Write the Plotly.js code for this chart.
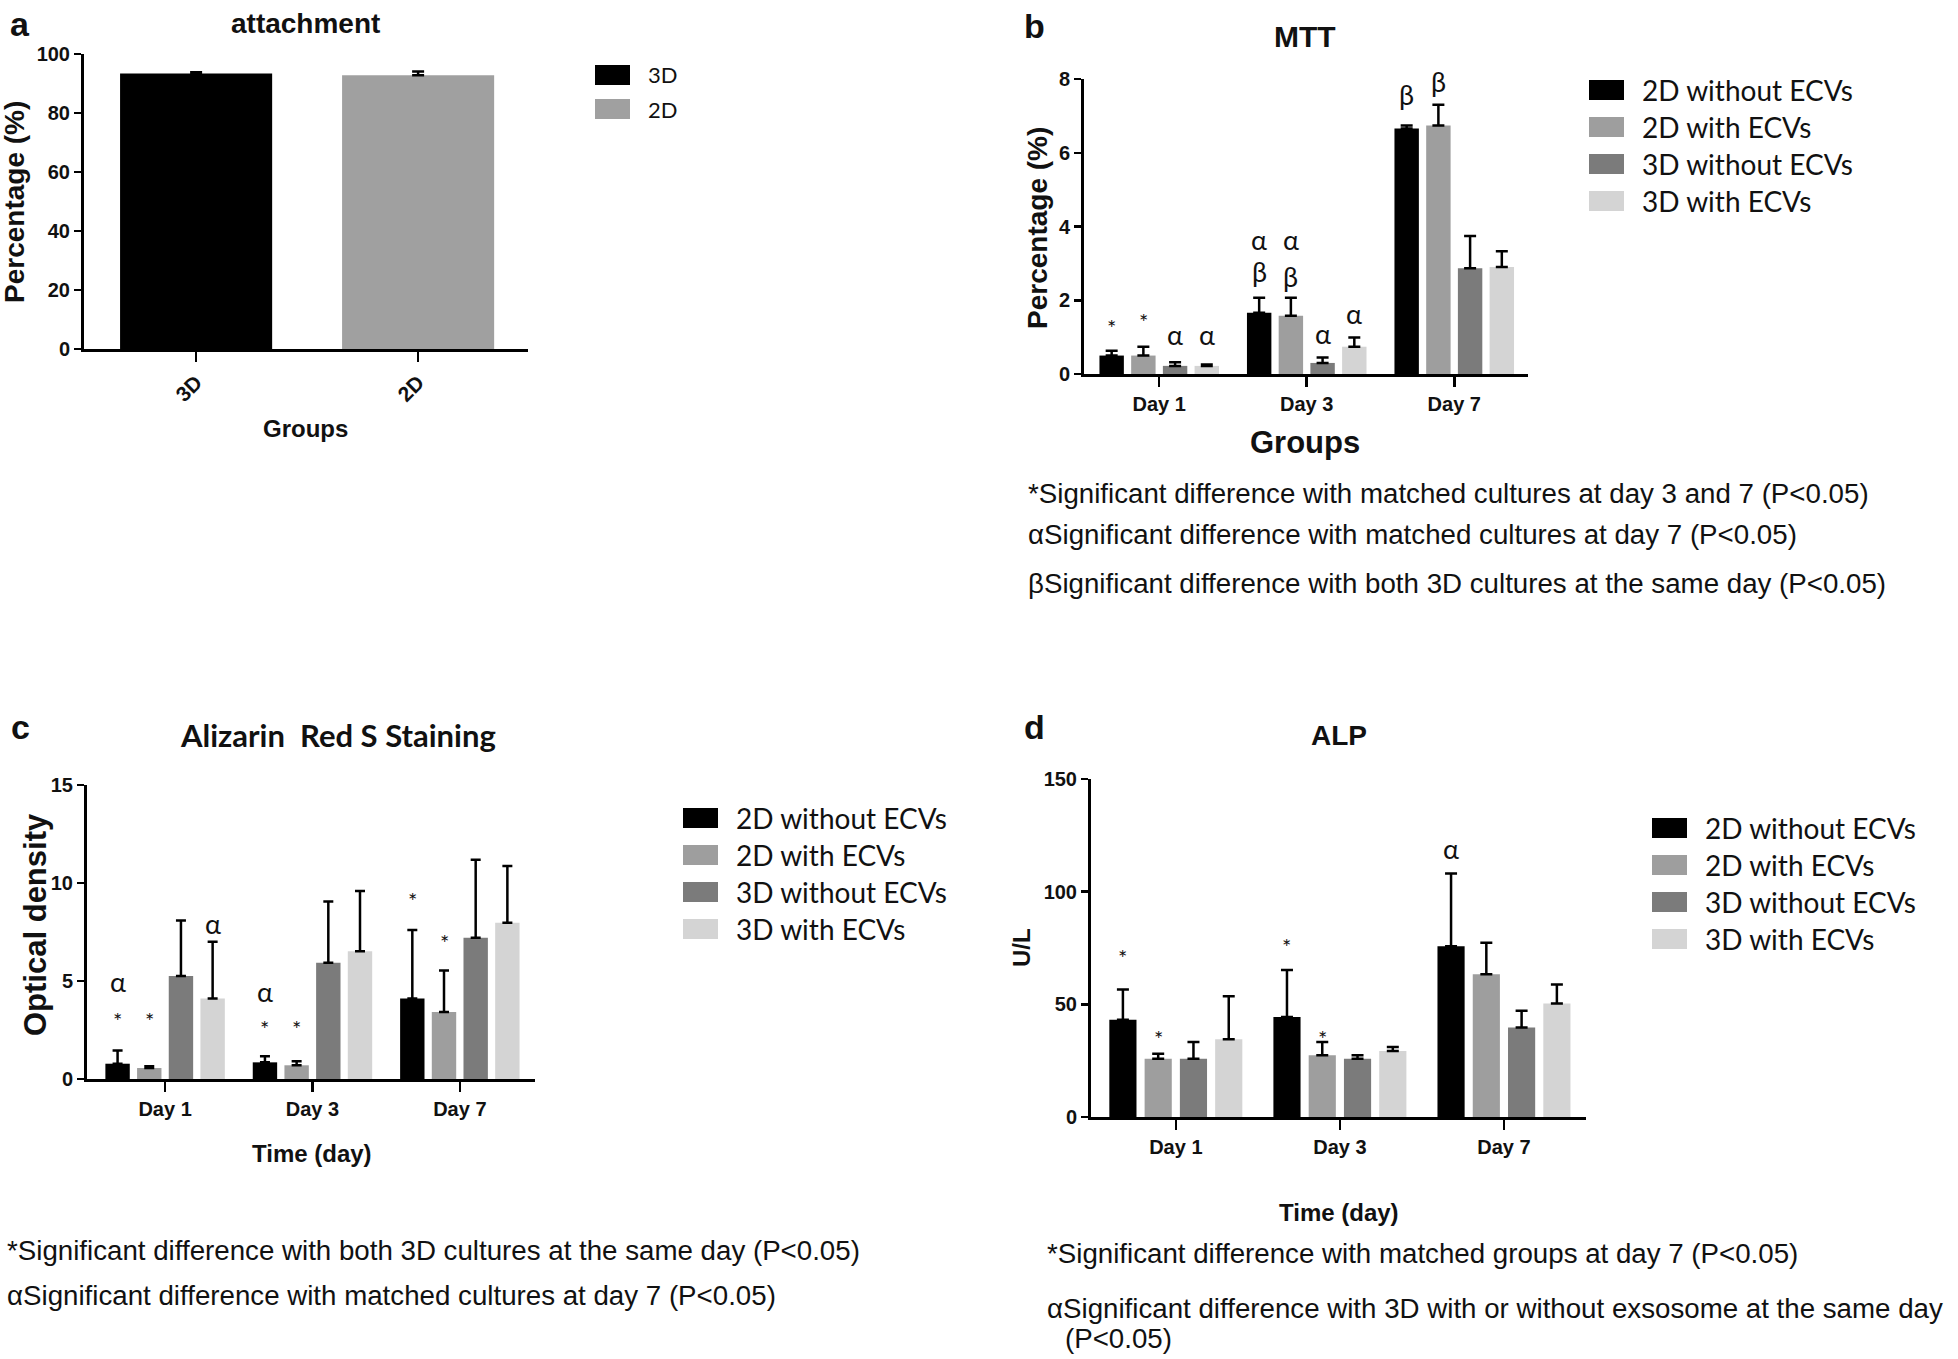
<!DOCTYPE html>
<html>
<head>
<meta charset="utf-8">
<script src="https://cdn.plot.ly/plotly-3.0.1.min.js"></script>
<style>html,body{margin:0;padding:0;background:#fff;}#chart{width:1958px;height:1359px;}</style>
</head>
<body>
<div id="chart"></div>
<script>
// ---------------- DATA ----------------
const seriesNames = ['2D without ECVs', '2D with ECVs', '3D without ECVs', '3D with ECVs'];
const seriesColors = ['#000000', '#9e9e9e', '#7b7b7b', '#d4d4d4'];
const days = ['Day 1', 'Day 3', 'Day 7'];

// (a) attachment
const attachGroups = ['3D', '2D'];
const attachColors = ['#000000', '#a0a0a0'];
const attachMean = [93.4, 92.8];
const attachErr = [0.4, 1.3];

// (b) MTT, percentage
const mtt2DwithoutMean = [0.50, 1.66, 6.66];
const mtt2DwithMean = [0.50, 1.58, 6.74];
const mtt3DwithoutMean = [0.22, 0.30, 2.87];
const mtt3DwithMean = [0.22, 0.74, 2.90];
const mtt2DwithoutErr = [0.13, 0.41, 0.08];
const mtt2DwithErr = [0.24, 0.49, 0.56];
const mtt3DwithoutErr = [0.10, 0.15, 0.87];
const mtt3DwithErr = [0.04, 0.25, 0.43];
// significance labels: [day index, series index, label, label height]
const mttSig = [[0,0,'*',1.42],[0,1,'*',1.60],[0,2,'α',1.06],[0,3,'α',1.06],
  [1,0,'α',3.65],[1,0,'β',2.78],[1,1,'α',3.65],[1,1,'β',2.64],[1,2,'α',1.10],[1,3,'α',1.65],
  [2,0,'β',7.57],[2,1,'β',7.93]];
const mttNotes = ['*Significant difference with matched cultures at day 3 and 7 (P<0.05)',
  'αSignificant difference with matched cultures at day 7 (P<0.05)',
  'βSignificant difference with both 3D cultures at the same day (P<0.05)'];

// (c) Alizarin Red S staining, optical density
const ars2DwithoutMean = [0.78, 0.85, 4.11];
const ars2DwithMean = [0.56, 0.70, 3.42];
const ars3DwithoutMean = [5.25, 5.93, 7.21];
const ars3DwithMean = [4.11, 6.52, 7.97];
const ars2DwithoutErr = [0.67, 0.31, 3.49];
const ars2DwithErr = [0.09, 0.20, 2.12];
const ars3DwithoutErr = [2.84, 3.12, 3.97];
const ars3DwithErr = [2.89, 3.07, 2.90];
const arsSig = [[0,0,'α',4.99],[0,0,'*',3.29],[0,1,'*',3.29],[0,3,'α',7.94],
  [1,0,'α',4.45],[1,0,'*',2.90],[1,1,'*',2.90],
  [2,0,'*',9.42],[2,1,'*',7.26]];
const arsNotes = ['*Significant difference with both 3D cultures at the same day (P<0.05)',
  'αSignificant difference with matched cultures at day 7 (P<0.05)'];

// (d) ALP, U/L
const alp2DwithoutMean = [43.2, 44.4, 75.8];
const alp2DwithMean = [25.9, 27.4, 63.4];
const alp3DwithoutMean = [25.9, 25.9, 39.7];
const alp3DwithMean = [34.5, 29.3, 50.4];
const alp2DwithoutErr = [13.4, 20.8, 32.3];
const alp2DwithErr = [2.2, 5.9, 13.9];
const alp3DwithoutErr = [7.4, 1.5, 7.4];
const alp3DwithErr = [19.1, 1.8, 8.4];
const alpSig = [[0,0,'*',73.3],[0,1,'*',37.3],[1,0,'*',78.5],[1,1,'*',37.3],[2,0,'α',119.2]];
const alpNotes = ['*Significant difference with matched groups at day 7 (P<0.05)',
  'αSignificant difference with 3D with or without exsosome at the same day',
  '(P<0.05)'];

// ---------------- LAYOUT HELPERS ----------------
const W = 1958, H = 1359;
const BARGAP = 0.14, BARGROUPGAP = 0.23;
const px = x => x / W;
const py = y => 1 - y / H;
const ARIAL = 'Liberation Sans, Arial, Helvetica, sans-serif';
const CALIBRI = 'Lato, Carlito, Calibri, sans-serif';
const NOTE_SIZE = 27.7;

function errY(arr, capw) {
  return {type: 'data', symmetric: false, array: arr, arrayminus: arr.map(() => 0),
          color: '#000', thickness: 2.5, width: capw, visible: true};
}

const traces = [];
// panel a
traces.push({type: 'bar', x: attachGroups, y: attachMean, width: 0.685,
  marker: {color: attachColors, line: {width: 0}}, error_y: errY(attachErr, 6),
  xaxis: 'x', yaxis: 'y', showlegend: false, hoverinfo: 'none'});

function addGroup(means, errs, ax, capw) {
  means.forEach((m, i) => {
    traces.push({type: 'bar', name: seriesNames[i], x: days, y: m,
      marker: {color: seriesColors[i], line: {width: 0}}, error_y: errY(errs[i], capw),
      xaxis: 'x' + ax, yaxis: 'y' + ax, showlegend: false, hoverinfo: 'none'});
  });
}
addGroup([mtt2DwithoutMean, mtt2DwithMean, mtt3DwithoutMean, mtt3DwithMean],
         [mtt2DwithoutErr, mtt2DwithErr, mtt3DwithoutErr, mtt3DwithErr], 2, 6);
addGroup([ars2DwithoutMean, ars2DwithMean, ars3DwithoutMean, ars3DwithMean],
         [ars2DwithoutErr, ars2DwithErr, ars3DwithoutErr, ars3DwithErr], 3, 5);
addGroup([alp2DwithoutMean, alp2DwithMean, alp3DwithoutMean, alp3DwithMean],
         [alp2DwithoutErr, alp2DwithErr, alp3DwithoutErr, alp3DwithErr], 4, 6);

function xAxis(x0, x1, yname, range, cats, extra) {
  return Object.assign({domain: [px(x0), px(x1)], anchor: yname, type: 'category',
    categoryorder: 'array', categoryarray: cats, range: range,
    showline: true, linewidth: 3, linecolor: '#000', ticks: 'outside', ticklen: 10,
    tickwidth: 2.5, tickcolor: '#000', showgrid: false, zeroline: false, fixedrange: true,
    tickfont: {family: ARIAL, size: 20, color: '#111', weight: 'bold'}}, extra || {});
}
function yAxis(top, bottom, xname, range, dtick) {
  return {domain: [py(bottom), py(top)], anchor: xname, range: range, dtick: dtick, tick0: 0,
    showline: true, linewidth: 3, linecolor: '#000', ticks: 'outside', ticklen: 7,
    tickwidth: 2.5, tickcolor: '#000', showgrid: false, zeroline: false, fixedrange: true,
    tickfont: {family: ARIAL, size: 20, color: '#111', weight: 'bold'}};
}

const annotations = [];
const shapes = [];
function txt(x, y, text, size, opts) {
  annotations.push(Object.assign({xref: 'paper', yref: 'paper', x: px(x), y: py(y), text: text,
    showarrow: false, xanchor: 'center', yanchor: 'middle',
    font: {family: ARIAL, size: size, color: '#111'}}, opts || {}));
}
function legend(x0, yFirst, step, names, colors, size) {
  names.forEach((n, i) => {
    const yc = yFirst + i * step;
    shapes.push({type: 'rect', xref: 'paper', yref: 'paper', x0: px(x0), x1: px(x0 + 35),
      y0: py(yc + 10), y1: py(yc - 10), fillcolor: colors[i], line: {width: 0}});
    txt(x0 + 51, yc, n, size, {xanchor: 'left', font: {family: CALIBRI, size: size, color: '#111'}});
  });
}
function sigLabels(list, ax) {
  const pitch = (1 - BARGAP) / seriesNames.length;
  list.forEach(s => {
    const star = s[2] === '*';
    annotations.push({xref: 'x' + ax, yref: 'y' + ax, x: s[0] + (s[1] - 1.5) * pitch, y: s[3],
      text: s[2], showarrow: false, xanchor: 'center', yanchor: 'middle', yshift: star ? -6 : 0,
      font: {family: CALIBRI, size: star ? 22 : 27, color: '#111'}});
  });
}
function notes(list, x, ys, size) {
  list.forEach((t, i) => txt(x, ys[i], t, size, {xanchor: 'left'}));
}

// panel a
txt(20, 24, '<b>a</b>', 34);
txt(305, 23, '<b>attachment</b>', 28);
txt(14, 202, '<b>Percentage (%)</b>', 28, {textangle: -90});
txt(305, 428, '<b>Groups</b>', 24);
legend(595, 75, 34, attachGroups, attachColors, 22);

// panel b
txt(1034, 26, '<b>b</b>', 34);
txt(1305, 36, '<b>MTT</b>', 30);
txt(1038, 228, '<b>Percentage (%)</b>', 28, {textangle: -90});
txt(1305, 443, '<b>Groups</b>', 31);
legend(1589, 90, 37, seriesNames, seriesColors, 28);
sigLabels(mttSig, 2);
notes(mttNotes, 1026, [493, 535, 583], NOTE_SIZE);

// panel c
txt(20, 727, '<b>c</b>', 34);
txt(338, 735, '<b>Alizarin  Red S Staining</b>', 31, {font: {family: CALIBRI, size: 31, color: '#111'}});
txt(35, 925, '<b>Optical density</b>', 31, {textangle: -90});
txt(312, 1153, '<b>Time (day)</b>', 24);
legend(683, 818, 37, seriesNames, seriesColors, 28);
sigLabels(arsSig, 3);
notes(arsNotes, 5, [1250, 1295], NOTE_SIZE);

// panel d
txt(1034, 727, '<b>d</b>', 34);
txt(1339, 735, '<b>ALP</b>', 28);
txt(1021, 948, '<b>U/L</b>', 24, {textangle: -90});
txt(1339, 1212, '<b>Time (day)</b>', 24);
legend(1652, 828, 37, seriesNames, seriesColors, 28);
sigLabels(alpSig, 4);
notes(alpNotes.slice(0, 2), 1045, [1253, 1308], NOTE_SIZE);
txt(1063, 1338, alpNotes[2], NOTE_SIZE, {xanchor: 'left'});

const layout = {
  width: W, height: H, margin: {l: 0, r: 0, t: 0, b: 0},
  paper_bgcolor: '#fff', plot_bgcolor: 'rgba(0,0,0,0)',
  barmode: 'group', bargap: BARGAP, bargroupgap: BARGROUPGAP, showlegend: false,
  font: {family: ARIAL, color: '#111'},
  xaxis: xAxis(84, 528, 'y', [-0.505, 1.495], attachGroups, {tickangle: -45, tickfont: {family: ARIAL, size: 21, color: '#111', weight: 'bold'}}),
  yaxis: yAxis(54, 349, 'x', [0, 100], 20),
  xaxis2: xAxis(1084, 1528, 'y2', [-0.51, 2.5], days),
  yaxis2: yAxis(79, 374, 'x2', [0, 8], 2),
  xaxis3: xAxis(87, 535, 'y3', [-0.53, 2.51], days),
  yaxis3: yAxis(785, 1079, 'x3', [0, 15], 5),
  xaxis4: xAxis(1091, 1586, 'y4', [-0.517, 2.5], days),
  yaxis4: yAxis(779, 1117, 'x4', [0, 150], 50),
  annotations: annotations, shapes: shapes
};

Plotly.newPlot('chart', traces, layout, {staticPlot: true, displayModeBar: false});
</script>
</body>
</html>
